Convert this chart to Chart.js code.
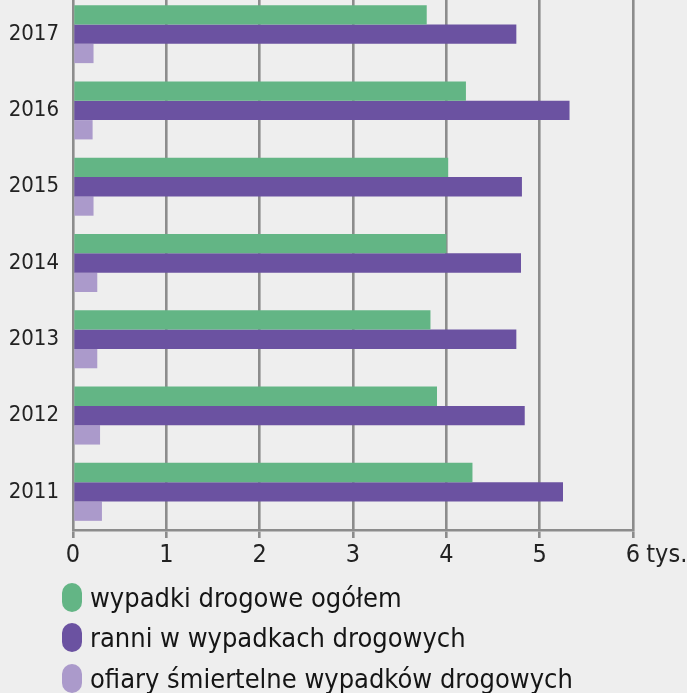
<!DOCTYPE html>
<html>
<head>
<meta charset="utf-8">
<script src="https://cdn.jsdelivr.net/npm/chart.js@4/dist/chart.umd.min.js"></script>
<style>
  html, body { margin: 0; padding: 0; background: #eeeeee; width: 687px; height: 693px; overflow: hidden; }
  #wrap { position: absolute; left: 0; top: -4px; width: 687px; height: 697px; }
  #legend { position: absolute; left: 62px; top: 577px; font-family: "Liberation Sans Narrow", "DejaVu Sans Condensed", sans-serif; font-size: 27px; color: #151515; }
  .item { display: flex; align-items: center; height: 40.5px; }
  .mark { width: 20px; height: 29px; border-radius: 10px; margin-right: 8px; flex: none; }
</style>
</head>
<body>
<div id="wrap"><canvas id="c" width="687" height="697"></canvas></div>
<div id="legend"></div>
<script>
const years = ['2017', '2016', '2015', '2014', '2013', '2012', '2011'];
const wypadki = [3.79, 4.21, 4.02, 4.00, 3.83, 3.90, 4.28];
const ranni = [4.75, 5.32, 4.81, 4.80, 4.75, 4.84, 5.25];
const ofiary = [0.22, 0.21, 0.22, 0.26, 0.26, 0.29, 0.31];
const seriesNames = ['wypadki drogowe ogółem', 'ranni w wypadkach drogowych', 'ofiary śmiertelne wypadków drogowych'];
const xTickLabels = ['0', '1', '2', '3', '4', '5', '6'];
const unitLabel = 'tys.';

const colors = ['#63b585', '#6b52a1', '#ab9acb'];
const FONT = '"Liberation Sans Narrow", "DejaVu Sans Condensed", sans-serif';

const unitPlugin = {
  id: 'unit',
  afterDraw(chart) {
    const sc = chart.scales.x;
    const items = sc.getLabelItems(chart.chartArea);
    const last = items[items.length - 1];
    if (!last) return;
    const ctx = chart.ctx;
    ctx.save();
    ctx.font = last.font.string;
    const w = ctx.measureText(last.label).width;
    ctx.fillStyle = '#222222';
    ctx.textAlign = 'left';
    ctx.textBaseline = last.options.textBaseline;
    ctx.fillText(' ' + unitLabel, last.options.translation[0] + w / 2 - 1, last.options.translation[1] + (last.textOffset || 0));
    ctx.restore();
  }
};

new Chart(document.getElementById('c'), {
  type: 'bar',
  data: {
    labels: years,
    datasets: [
      { label: seriesNames[0], data: wypadki, backgroundColor: colors[0] },
      { label: seriesNames[1], data: ranni, backgroundColor: colors[1] },
      { label: seriesNames[2], data: ofiary, backgroundColor: colors[2] }
    ]
  },
  options: {
    indexAxis: 'y',
    responsive: false,
    animation: false,
    devicePixelRatio: 1,
    layout: { padding: { left: 0, right: 54, top: 0, bottom: 123 } },
    datasets: { bar: { categoryPercentage: 0.76, barPercentage: 1.0 } },
    plugins: { legend: { display: false }, tooltip: { enabled: false } },
    scales: {
      x: {
        min: 0, max: 6,
        ticks: {
          stepSize: 1,
          padding: 2,
          color: '#222222',
          font: { family: FONT, size: 25 },
          callback: (v, i) => xTickLabels[i]
        },
        grid: { color: '#8c8c8c', lineWidth: 2.6, drawTicks: true, tickLength: 8, tickColor: '#8c8c8c' },
        border: { display: true, color: '#8c8c8c', width: 2.6 },
        afterFit: (s) => { s.height = 40; s.paddingLeft = 0; s.paddingRight = 0; }
      },
      y: {
        ticks: { padding: 14, color: '#222222', font: { family: FONT, size: 22 } },
        grid: { display: false, drawTicks: false },
        border: { display: false },
        afterFit: (s) => { s.width = 73; s.paddingTop = 0; s.paddingBottom = 0; }
      }
    }
  },
  plugins: [unitPlugin]
});

const lg = document.getElementById('legend');
seriesNames.forEach((n, i) => {
  const d = document.createElement('div');
  d.className = 'item';
  const m = document.createElement('span');
  m.className = 'mark';
  m.style.background = colors[i];
  const t = document.createElement('span');
  t.textContent = n;
  d.appendChild(m); d.appendChild(t);
  lg.appendChild(d);
});
</script>
</body>
</html>
